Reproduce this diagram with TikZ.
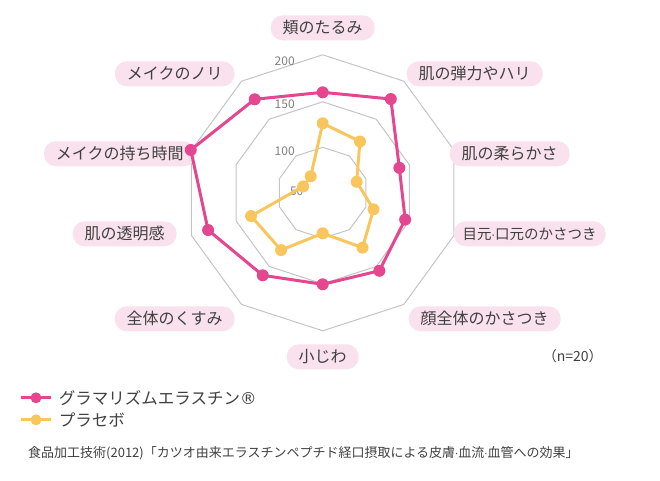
\documentclass[tikz,border=0pt]{standalone}
\usepackage{fontspec}
\setmainfont{Noto Sans CJK JP}
\newfontfamily\dejavu{DejaVu Sans}
\usetikzlibrary{positioning}
\definecolor{pinkline}{HTML}{E4478F}
\definecolor{yellowline}{HTML}{F8C65C}
\definecolor{pillfill}{HTML}{F9E1EE}
\definecolor{gridgray}{HTML}{C4C4C4}
\definecolor{textgray}{HTML}{404040}

\begin{document}
\begin{tikzpicture}[
			x=1pt, y=1pt,
			every node/.style={text=textgray},
			pill/.style={fill=pillfill, rounded corners=12pt, minimum height=25pt, inner xsep=12pt, font=\fontsize{16}{16}\selectfont},
			ring/.style={draw=gridgray, line width=1pt},
			pinkdot/.style={circle, fill=pinkline, inner sep=0pt, minimum size=12pt},
			yellowdot/.style={circle, fill=yellowline, inner sep=0pt, minimum size=12pt},
			tick/.style={font=\fontsize{12}{12}\selectfont, text=gray}
			]
			\useasboundingbox (-322.7,-287.2) rectangle (337.3,192.8);
			
			% grid rings
			\foreach \r in {45.5,91,138}
				\draw[ring] (90:\r) \foreach \k in {1,...,9} { -- (90-36*\k:\r) } -- cycle;
			
			\node[tick] (t200) at (-38,132) {200};
			\node[tick] (t150) at (-38,89) {150};
			\node[tick] (t100) at (-38,42) {100};
			\node[tick] (t50) at (-26,2) {50};
			
			% axis labels
			\node[pill] (a0) at (0,165) {頬のたるみ};
			\node[pill] (a1) at (152,119) {肌の弾力やハリ};
			\node[pill] (a2) at (187,39) {肌の柔らかさ};
			\node[pill, inner xsep=9pt, font=\fontsize{14.5}{14.5}\selectfont] (a3) at (207,-41) {目元{\dejavu\fontsize{11}{11}\selectfont ·}口元のかさつき};
			\node[pill] (a4) at (162,-126) {顔全体のかさつき};
			\node[pill] (a5) at (0,-164) {小じわ};
			\node[pill] (a6) at (-148,-126) {全体のくすみ};
			\node[pill] (a7) at (-198,-41) {肌の透明感};
			\node[pill] (a8) at (-203,39) {メイクの持ち時間};
			\node[pill] (a9) at (-148,119) {メイクのノリ};
			
			% placebo
			\foreach \r [count=\i from 0] in {69.5,63.4,35.7,53.4,67.8,40.5,70.8,75.3,20.6,20.4}
				\coordinate (y\i) at (90-36*\i:\r);
			\draw[yellowline, line width=3pt, line join=round] (y0) \foreach \i in {1,...,9} { -- (y\i) } -- cycle;
			\foreach \i in {0,...,9}
				\node[yellowdot] at (y\i) {};
			
			% product
			\foreach \r [count=\i from 0] in {100.5,115.9,80.6,86.7,96.4,91.5,102,120.5,138.7,115.6}
				\coordinate (p\i) at (90-36*\i:\r);
			\draw[pinkline, line width=3pt, line join=round] (p0) \foreach \i in {1,...,9} { -- (p\i) } -- cycle;
			\foreach \i in {0,...,9}
				\node[pinkdot] at (p\i) {};
			
			\node[font=\fontsize{14}{14}\selectfont] (n) at (250,-163) {（n=20）};
			
			% legend
			\coordinate (l1) at (-286.7,-205);
			\coordinate (l2) at (-286.7,-227);
			\draw[pinkline, line width=3pt] (l1) -- ++(-15,0) (l1) -- ++(15,0);
			\node[pinkdot, minimum size=11pt] (d1) at (l1) {};
			\node[right=17pt of d1, inner sep=0pt, font=\fontsize{16.5}{16.5}\selectfont] (g1) {グラマリズムエラスチン{\dejavu ®}};
			\draw[yellowline, line width=3pt] (l2) -- ++(-15,0) (l2) -- ++(15,0);
			\node[yellowdot, minimum size=11pt] (d2) at (l2) {};
			\node[right=17pt of d2, inner sep=0pt, font=\fontsize{16.5}{16.5}\selectfont] (g2) {プラセボ};
			
			\node[anchor=west, inner sep=0pt, font=\fontsize{13}{13}\selectfont] (src) at (-294.7,-260) {食品加工技術(2012)「カツオ由来エラスチンペプチド経口摂取による皮膚{\dejavu\fontsize{10}{10}\selectfont ·}血流{\dejavu\fontsize{10}{10}\selectfont ·}血管への効果」};
		\end{tikzpicture}
\end{document}
